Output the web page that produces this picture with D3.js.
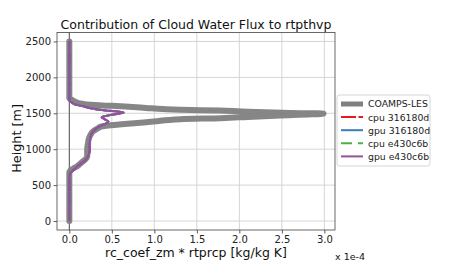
<!DOCTYPE html>
<html>
<head>
<meta charset="utf-8">
<script src="https://cdn.jsdelivr.net/npm/d3@7"></script>
<style>
  body { margin: 0; background: #fff; }
  svg { display: block; font-family: "DejaVu Sans", sans-serif; }
</style>
</head>
<body>
<div id="chart"></div>
<script>
// profile data, values in units of 1e-4
const lesHeight = [0, 600, 680, 700, 720, 735, 760, 790, 820, 860, 900, 950, 1000, 1083, 1150, 1200, 1250, 1280,
  1300, 1315, 1350, 1385, 1418, 1432, 1450, 1469, 1485, 1497, 1505, 1520, 1538, 1548, 1560, 1575, 1590,
  1604, 1618, 1632, 1650, 1674, 1695, 1711, 1800, 2500];
const lesValue = [0, 0, 0, 0.01, 0.03, 0.05, 0.09, 0.12, 0.15, 0.19, 0.21, 0.21, 0.21, 0.22, 0.23, 0.25, 0.28, 0.32,
  0.35, 0.37, 0.65, 0.99, 1.31, 1.78, 2.1, 2.48, 2.85, 2.99, 2.6, 2.1, 1.78, 1.31, 1.1, 0.9, 0.7,
  0.5, 0.25, 0.15, 0.09, 0.05, 0.02, 0, 0, 0];

const modelHeight = [0, 600, 665, 690, 720, 757, 800, 850, 900, 948, 1000, 1083, 1176, 1230, 1269, 1315,
  1350, 1385, 1420, 1446, 1480, 1511, 1534, 1548, 1571, 1600, 1618, 1640, 1660, 1678, 1800, 2500];
const modelValue = [0, 0, 0.01, 0.03, 0.06, 0.09, 0.14, 0.19, 0.22, 0.235, 0.24, 0.24, 0.25, 0.27, 0.30, 0.35,
  0.42, 0.46, 0.41, 0.38, 0.5, 0.64, 0.48, 0.36, 0.25, 0.15, 0.08, 0.04, 0.015, 0, 0, 0];

const seriesNames = ["COAMPS-LES", "cpu 316180d", "gpu 316180d", "cpu e430c6b", "gpu e430c6b"];
const xTicks = [0, 0.5, 1, 1.5, 2, 2.5, 3];
const yTicks = [0, 500, 1000, 1500, 2000, 2500];

const W = 450, H = 270;
const svg = d3.select("#chart").append("svg").attr("width", W).attr("height", H);

const x = d3.scaleLinear().domain([-0.145, 3.125]).range([57, 335]);
const y = d3.scaleLinear().domain([-125, 2625]).range([230, 32.5]);

// grid
const g = svg.append("g");
g.selectAll(".gx").data(xTicks).enter().append("line")
  .attr("x1", d => x(d)).attr("x2", d => x(d))
  .attr("y1", y.range()[0]).attr("y2", y.range()[1])
  .attr("stroke", "#d0d0d0").attr("stroke-width", 0.9);
g.selectAll(".gy").data(yTicks).enter().append("line")
  .attr("y1", d => y(d)).attr("y2", d => y(d))
  .attr("x1", x.range()[0]).attr("x2", x.range()[1])
  .attr("stroke", "#d0d0d0").attr("stroke-width", 0.9);

// zero line
g.append("line")
  .attr("x1", x(0)).attr("x2", x(0))
  .attr("y1", y.range()[0]).attr("y2", y.range()[1])
  .attr("stroke", "#555").attr("stroke-width", 1);

const styles = [
  { color: "#808080", width: 6, dash: null },
  { color: "#e41a1c", width: 2, dash: "12,3" },
  { color: "#377eb8", width: 2, dash: null },
  { color: "#4daf4a", width: 2, dash: "9,5,2,5" },
  { color: "#984ea3", width: 2, dash: null }
];

const line = d3.line().x(d => x(d[1])).y(d => y(d[0])).curve(d3.curveMonotoneY);
const lesData = lesHeight.map((h, i) => [h, lesValue[i]]);
const modelData = modelHeight.map((h, i) => [h, modelValue[i]]);

seriesNames.forEach((name, i) => {
  const s = styles[i];
  g.append("path")
    .datum(i === 0 ? lesData : modelData)
    .attr("d", line)
    .attr("fill", "none")
    .attr("stroke", s.color)
    .attr("stroke-width", s.width)
    .attr("stroke-linejoin", "round")
    .attr("stroke-linecap", i === 0 ? "round" : "butt")
    .attr("stroke-dasharray", s.dash)
    .attr("opacity", i === 0 ? 0.95 : 1);
});

// axes
const xAxis = svg.append("g").attr("transform", `translate(0,${y.range()[0]})`)
  .call(d3.axisBottom(x).tickValues(xTicks).tickFormat(d3.format(".1f")).tickSize(3.5).tickPadding(2));
const yAxis = svg.append("g").attr("transform", `translate(${x.range()[0]},0)`)
  .call(d3.axisLeft(y).tickValues(yTicks).tickFormat(d3.format("d")).tickSize(3.5).tickPadding(2.5));
[xAxis, yAxis].forEach(a => {
  a.select(".domain").remove();
  a.selectAll("line").attr("stroke", "#333").attr("stroke-width", 0.8);
  a.selectAll("text").attr("font-family", "DejaVu Sans").attr("font-size", 10).attr("fill", "#222");
});

// frame
svg.append("rect")
  .attr("x", x.range()[0]).attr("y", y.range()[1])
  .attr("width", x.range()[1] - x.range()[0]).attr("height", y.range()[0] - y.range()[1])
  .attr("fill", "none").attr("stroke", "#444").attr("stroke-width", 0.8);

// labels
svg.append("text").attr("x", 196).attr("y", 29).attr("text-anchor", "middle")
  .attr("font-size", 12.5).attr("fill", "#111").text("Contribution of Cloud Water Flux to rtpthvp");
svg.append("text").attr("x", 196).attr("y", 257).attr("text-anchor", "middle")
  .attr("font-size", 12.5).attr("fill", "#111").text("rc_coef_zm * rtprcp [kg/kg K]");
svg.append("text").attr("transform", `translate(21,${y(1150)}) rotate(-90)`).attr("text-anchor", "middle")
  .attr("font-size", 12.8).attr("fill", "#111").text("Height [m]");
svg.append("text").attr("x", 335).attr("y", 260)
  .attr("font-size", 9.5).attr("fill", "#111").text("x 1e-4");

// legend
const leg = svg.append("g").attr("transform", "translate(337,95)");
leg.append("rect").attr("width", 93).attr("height", 71).attr("rx", 2.5)
  .attr("fill", "#fff").attr("stroke", "#ccc").attr("stroke-width", 0.8);
seriesNames.forEach((name, i) => {
  const s = styles[i];
  const yy = 9 + i * 13.1;
  leg.append("line").attr("x1", 4).attr("x2", 26).attr("y1", yy).attr("y2", yy)
    .attr("stroke", s.color).attr("stroke-width", i === 0 ? 5 : 2)
    .attr("stroke-dasharray", i === 1 ? "15,2.5" : (i === 3 ? "11,6" : null));
  leg.append("text").attr("x", 31).attr("y", yy + 3.4)
    .attr("font-size", 9.3).attr("fill", "#222").text(name);
});
</script>
</body>
</html>
